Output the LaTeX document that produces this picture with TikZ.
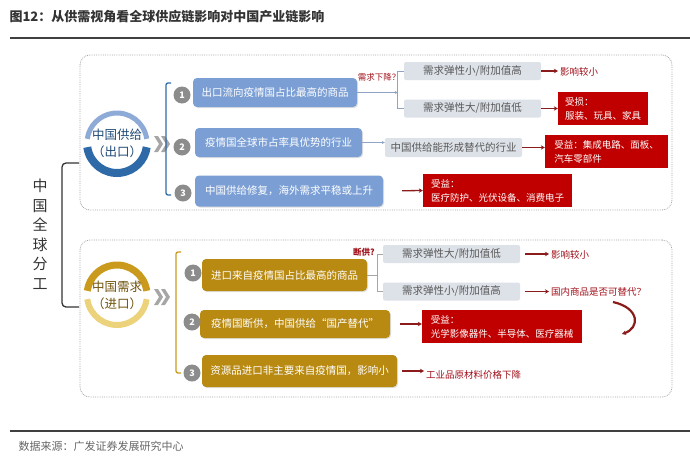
\documentclass[tikz,border=0pt]{standalone}
\usepackage{fontspec}
\setmainfont{Noto Sans CJK SC}
\usetikzlibrary{arrows.meta,positioning,calc,shadows}
\definecolor{supblue}{HTML}{7B9FD4}
\definecolor{supdark}{HTML}{2F6AA8}
\definecolor{suplight}{HTML}{8EAAD6}
\definecolor{demgold}{HTML}{B88A12}
\definecolor{demdark}{HTML}{C99A1C}
\definecolor{demlight}{HTML}{ECD27A}
\definecolor{factgray}{HTML}{DDE1E8}
\definecolor{hitred}{HTML}{C00000}
\definecolor{lblred}{HTML}{A0101A}
\definecolor{arrred}{HTML}{8B1C1C}
\definecolor{forkblue}{HTML}{8EA3C6}
\definecolor{dotgray}{HTML}{8C8C8C}
\definecolor{chevgray}{HTML}{A6A6A6}

\begin{document}
\begin{tikzpicture}[x=1pt, y=1pt,
  font=\fontsize{10.5}{13}\selectfont,
  frame/.style={draw=black!35, densely dotted, rounded corners=10pt, line width=0.8pt},
  supbox/.style={rectangle, rounded corners=4pt, fill=supblue, text=white,
                 minimum height=29, inner sep=0pt,
                 drop shadow={opacity=0.25, shadow xshift=1pt, shadow yshift=-1pt}},
  dembox/.style={supbox, fill=demgold},
  factbox/.style={rectangle, rounded corners=2pt, fill=factgray, text=black!65,
                  minimum width=137, minimum height=18, inner sep=0pt},
  hitbox/.style={rectangle, fill=hitred, text=white, align=left, minimum height=33,
                 font=\fontsize{9.5}{14}\selectfont, inner xsep=5pt, inner ysep=2pt},
  numdot/.style={circle, fill=dotgray, text=white, minimum size=17, inner sep=0pt,
                 font=\fontsize{9}{9}\selectfont\bfseries},
  redlbl/.style={text=lblred, font=\fontsize{9.5}{11}\selectfont, inner sep=2pt},
  ar/.style={-{Stealth[length=4pt, width=4.5pt]}, draw=arrred, line width=1.3pt},
  fork/.style={draw=forkblue, line width=0.8pt},
  ringtxt/.style={align=center, font=\fontsize{12.5}{17}\selectfont}
]
\useasboundingbox (0,0) rectangle (690,-458);

\node[anchor=west, text=black!80, font=\fontsize{13}{15}\selectfont\bfseries] (title) at (6,-17)
  {图12：从供需视角看全球供应链影响对中国产业链影响};
\draw[line width=1.6pt, black!75] (10,-38) -- (690,-38);
\draw[line width=1.6pt, black!75] (10,-431) -- (690,-431);
\node[anchor=west, text=black!60, font=\fontsize{11}{13}\selectfont] (src) at (15,-446)
  {数据来源：广发证券发展研究中心};

\node[frame, minimum width=592, minimum height=155] (supframe) at (376,-132.5) {};
\node[frame, minimum width=592, minimum height=157] (demframe) at (376,-318.5) {};

\node[align=center, text=black!80, font=\fontsize{15}{19.5}\selectfont] (glob) at (40,-234)
  {中\\国\\全\\球\\分\\工};
\coordinate (gtop) at (79,-163);
\coordinate (gbot) at (79,-307);
\draw[line width=1.3pt, black!80, rounded corners=4pt] (gtop) -- ++(-17,0) |- (gbot);

\coordinate (supc) at (117,-143);
\fill[white] (supc) circle (30);
\draw[line width=5pt, suplight] ($(supc)+(8:30)$) arc (8:172:30);
\draw[line width=8pt, supdark] ($(supc)+(188:30)$) arc (188:352:30);
\node[ringtxt, text=supdark!70!black] (supn) at (supc) {中国供给\\（出口）};

\coordinate (demc) at (117,-295);
\fill[white] (demc) circle (30);
\draw[line width=7pt, demdark] ($(demc)+(8:30)$) arc (8:172:30);
\draw[line width=6pt, demlight] ($(demc)+(188:30)$) arc (188:352:30);
\node[ringtxt, text=demgold!60!black] (demn) at (demc) {中国需求\\（进口）};

\foreach \cy in {-144,-297}
  \foreach \dx in {0,7}
    \fill[chevgray] (154+\dx,\cy+8) -- ++(4,0) -- ++(5,-8) -- ++(-5,-8) -- ++(-4,0) -- ++(5,8) -- cycle;

\draw[line width=1.3pt, supdark, rounded corners=2pt] (171,-83) -- (166,-83) -- (166,-195) -- (171,-195);
\draw[line width=1.3pt, demdark, rounded corners=2pt] (181,-252) -- (176,-252) -- (176,-373) -- (181,-373);

\node[supbox, minimum width=164] (s1) at (275,-92.5) {出口流向疫情国占比最高的商品};
\node[supbox, minimum width=167] (s2) at (278.5,-142.5) {疫情国全球市占率具优势的行业};
\node[supbox, minimum width=188, minimum height=31] (s3) at (289,-191) {中国供给修复，海外需求平稳或上升};
\node[numdot] (sn1) at (182,-95) {1};
\node[numdot] (sn2) at (182,-147) {2};
\node[numdot] (sn3) at (183,-193) {3};

\node[dembox, minimum width=165, minimum height=32] (d1) at (284.5,-275) {进口来自疫情国占比最高的商品};
\node[dembox, minimum width=190, minimum height=28] (d2) at (295,-324) {疫情国断供，中国供给“国产替代”};
\node[dembox, minimum width=195, minimum height=32] (d3) at (299.5,-371) {资源品进口非主要来自疫情国，影响小};
\node[numdot] (dn1) at (193,-273) {1};
\node[numdot] (dn2) at (192,-322) {2};
\node[numdot] (dn3) at (192,-373) {3};

\node[factbox] (sa) at (472.5,-71) {需求弹性小/附加值高};
\node[factbox] (sb) at (472.5,-108.5) {需求弹性大/附加值低};
\node[factbox, minimum height=19] (sc) at (453.5,-147.5) {中国供给能形成替代的行业};
\node[factbox] (da) at (451.5,-254) {需求弹性大/附加值低};
\node[factbox] (db) at (451.5,-291.5) {需求弹性小/附加值高};

\node[redlbl, font=\fontsize{8.5}{10}\selectfont] (sq) at (379,-77) {需求下降？};
\node[redlbl, font=\fontsize{8.5}{10}\selectfont\bfseries] (dq) at (364,-252) {断供?};

\draw[fork] (sa.west) -- ++(-6,0) |- (sb.west);
\draw[fork, -{Stealth[length=3pt, width=3pt]}] (s1.east) -- ([xshift=-6pt]s1.east -| sa.west);
\draw[fork, -{Stealth[length=3pt, width=3pt]}] (s2.east) -- (s2.east -| sc.west);
\draw[fork, draw=black!35] (da.west) -- ++(-5,0) |- (db.west);
\draw[fork, draw=black!35] (d1.east) -- ([xshift=-5pt]d1.east -| da.west);

\node[redlbl, anchor=west] (sr1) at (558,-72) {影响较小};
\node[hitbox, minimum width=90] (rb1) at (603,-108.5) {受损：\\服装、玩具、家具};
\node[hitbox, minimum width=123] (rb2) at (606.5,-151.5) {受益：集成电路、面板、\\汽车零部件};
\node[hitbox, minimum width=149] (rb3) at (497.5,-190.5) {受益：\\医疗防护、光伏设备、消费电子};

\draw[ar] (sa.east) -- (sa.east -| sr1.west);
\draw[ar] (sb.east) -- (rb1.west);
\draw[ar] (sc.east) -- (sc.east -| rb2.west);
\draw[ar, shorten <=19pt] (s3.east) -- (rb3.west);

\node[redlbl, anchor=west] (dr1) at (549,-255) {影响较小};
\node[redlbl, anchor=west] (dr2) at (549,-292) {国内商品是否可替代？};
\node[hitbox, minimum width=160] (rb4) at (502,-326.5) {受益：\\光学影像器件、半导体、医疗器械};
\node[redlbl, anchor=west] (dr3) at (424,-375) {工业品原材料价格下降};

\draw[ar] ([xshift=5pt]da.east) -- (da.east -| dr1.west);
\draw[ar] ([xshift=5pt]db.east) -- (db.east -| dr2.west);
\draw[ar, shorten <=10pt] (d2.east) -- (d2.east -| rb4.west);
\draw[ar, shorten <=5pt] (d3.east) -- (d3.east -| dr3.west);

\coordinate (cvA) at (613,-302);
\coordinate (cvB) at (622,-334);
\draw[ar, line width=2.2pt] (cvA) .. controls (640,-308) and (640,-328) .. (cvB);
\end{tikzpicture}
\end{document}
